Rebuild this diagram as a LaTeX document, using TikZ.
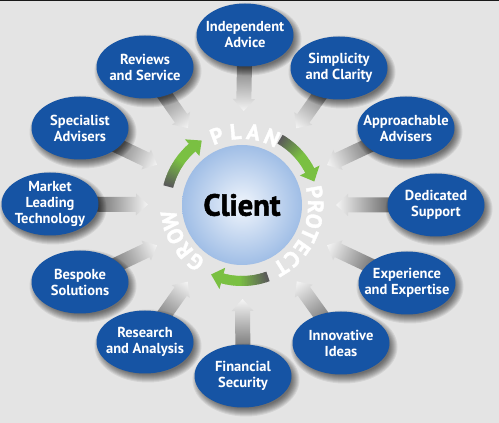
\documentclass[tikz,border=0pt]{standalone}
\usepackage{fontspec}
\setmainfont{PT Sans}
\newfontfamily\ringfam{PT Sans}[BoldFont={PT Sans Bold}, BoldFeatures={FakeBold=1.8}]
\usetikzlibrary{shapes.geometric,calc}
\definecolor{bgray}{RGB}{228,228,228}
\definecolor{bblue}{RGB}{22,84,164}
\definecolor{cgreen}{RGB}{122,192,66}
\definecolor{cgray}{RGB}{90,90,90}
\definecolor{cinner}{RGB}{240,245,252}
\definecolor{couter}{RGB}{160,190,230}
\tikzset{
 bubble/.style={ellipse, fill=bblue, minimum width=97pt, minimum height=63pt, inner sep=0pt},
 btext/.style={text=white, font=\bfseries\fontsize{14.5}{16}\selectfont, align=center},
 grayarrow/.style={left color=white!96!black, right color=black!60},
 shadowpiece/.style={fill=black, fill opacity=0.075},
 ringletter/.style={text=white, font=\ringfam\bfseries\fontsize{22}{22}\selectfont, inner sep=0pt, anchor=base},
}
\begin{document}
\begin{tikzpicture}[x=1pt,y=1pt]
\fill[bgray] (0,0) rectangle (499,423);
\fill[black!90] (0,422) rectangle (499,423);
\useasboundingbox (0,0) rectangle (499,423);

\coordinate (client) at (242,218);
\coordinate (p1) at (245,388);
\coordinate (p2) at (339,355);
\coordinate (p3) at (406,295);
\coordinate (p4) at (436,218);
\coordinate (p5) at (407,140);
\coordinate (p6) at (341,80);
\coordinate (p7) at (243,47);
\coordinate (p8) at (145,81);
\coordinate (p9) at (80,141);
\coordinate (p10) at (50,219);
\coordinate (p11) at (80,295);
\coordinate (p12) at (145,356);

% grey arrows pointing to the client
\foreach \n in {p1,p2,p3,p4,p5,p6,p7,p8,p9,p10,p11,p12}{
  \pgfmathanglebetweenpoints{\pgfpointanchor{client}{center}}{\pgfpointanchor{\n}{center}}
  \let\ang\pgfmathresult
  \begin{scope}[transform canvas={rotate around={\ang:(client)}}]
    \shade[grayarrow] ($(client)+(94,0)$) -- ($(client)+(106,11)$) -- ($(client)+(106,7.5)$)
      -- ($(client)+(150,7.5)$) -- ($(client)+(150,-7.5)$) -- ($(client)+(106,-7.5)$)
      -- ($(client)+(106,-11)$) -- cycle;
  \end{scope}
}

% soft shadows
\foreach \n in {p1,p2,p3,p4,p5,p6,p7,p8,p9,p10,p11,p12}{
  \foreach \k in {5,4,3,2,1,0,-1,-2,-3}{
    \fill[shadowpiece] ($(\n)+(3,-4)$) ellipse[x radius=48.5+\k, y radius=31.5+\k];
  }
}

\node[bubble, label={[btext]center:{Independent\\Advice}}] (n1) at (p1) {};
\node[bubble, label={[btext]center:{Simplicity\\and Clarity}}] (n2) at (p2) {};
\node[bubble, label={[btext]center:{Approachable\\Advisers}}] (n3) at (p3) {};
\node[bubble, label={[btext]center:{Dedicated\\Support}}] (n4) at (p4) {};
\node[bubble, label={[btext]center:{Experience\\and Expertise}}] (n5) at (p5) {};
\node[bubble, label={[btext]center:{Innovative\\Ideas}}] (n6) at (p6) {};
\node[bubble, label={[btext]center:{Financial\\Security}}] (n7) at (p7) {};
\node[bubble, label={[btext]center:{Research\\and Analysis}}] (n8) at (p8) {};
\node[bubble, label={[btext]center:{Bespoke\\Solutions}}] (n9) at (p9) {};
\node[bubble, label={[btext]center:{Market\\Leading\\Technology}}] (n10) at (p10) {};
\node[bubble, label={[btext]center:{Specialist\\Advisers}}] (n11) at (p11) {};
\node[bubble, label={[btext]center:{Reviews\\and Service}}] (n12) at (p12) {};

\node[circle, minimum size=120pt, inner sep=0pt, inner color=cinner, outer color=couter,
      font=\ringfam\bfseries\fontsize{30.5}{30.5}\selectfont] (clientnode) at (client) {Client};

% green cycle arrows
\foreach \s/\e in {166/122, 60/18, -70/-114}{
  \pgfmathsetmacro\hb{\e+9}
  \foreach \i in {0,...,29}{
    \pgfmathsetmacro\aa{\s+(\hb-\s)*\i/30}
    \pgfmathsetmacro\ab{\s+(\hb-\s)*(\i+1.5)/30}
    \pgfmathtruncatemacro\pc{min(100,\i*100/18)}
    \draw[line width=10pt, cgreen!\pc!cgray] ($(client)+(\aa:76)$) arc[start angle=\aa, end angle=\ab, radius=76];
  }
  \fill[cgreen] ($(client)+(\hb:65)$) -- ($(client)+(\e:76)$) -- ($(client)+(\hb:87)$) -- cycle;
}

% curved words round the client
\foreach \l/\a in {P/110, L/95, A/81, N/66,
                   P/10, R/-1.3, O/-12.7, T/-24, E/-35.3, C/-46.7, T/-58,
                   G/231, R/218, O/205, W/192}{
  \node[ringletter, rotate=\a-90] at ($(client)+(\a:66)$) {\l};
}
\end{tikzpicture}
\end{document}
